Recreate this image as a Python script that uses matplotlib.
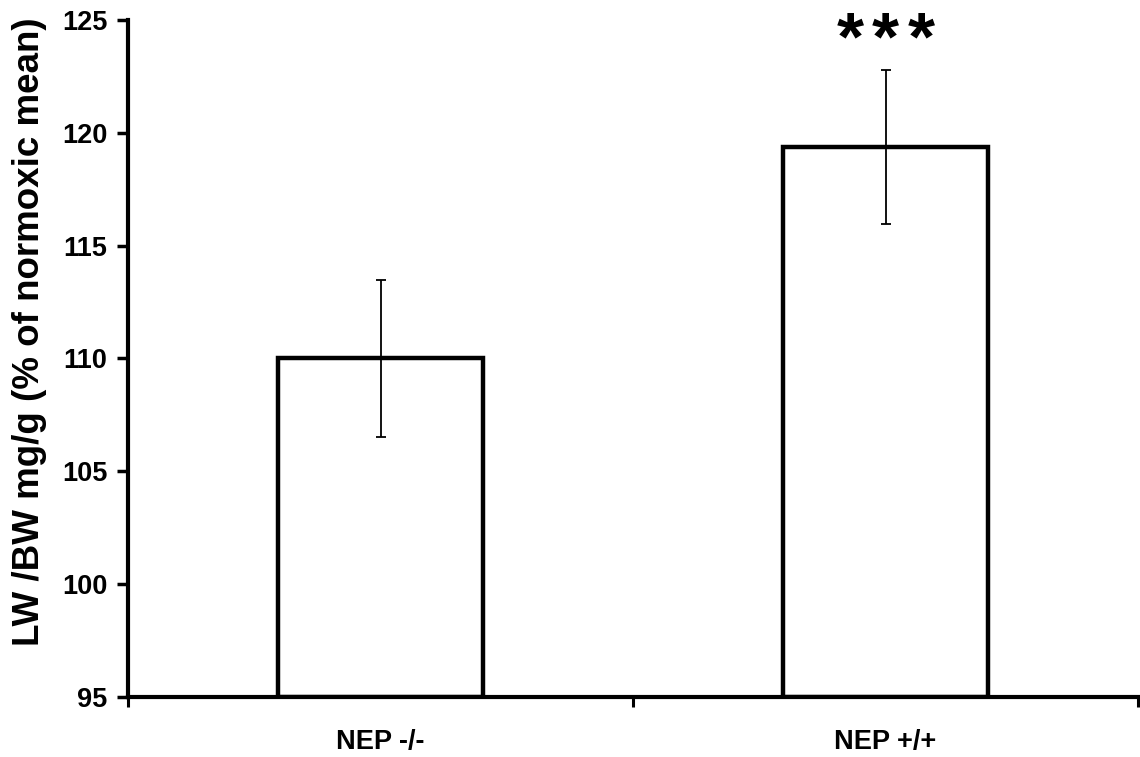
import matplotlib
matplotlib.use("Agg")
import matplotlib.pyplot as plt
import numpy as np

categories = ["NEP -/-", "NEP +/+"]
means = [110.0, 119.37]
errors = [3.5, 3.4]
y_ticks = [95, 100, 105, 110, 115, 120, 125]
annotation = "***"

plt.rcParams['font.family'] = ['Liberation Sans', 'DejaVu Sans']
plt.rcParams['font.weight'] = 'bold'

fig = plt.figure(figsize=(11.4, 7.57), dpi=100)
ax = fig.add_axes([128/1140, 1-697/757, (1138-128)/1140, (697-20)/757])

x = np.arange(len(categories))
ax.bar(x, [m - 95 for m in means], bottom=95, width=0.404, color='white',
       edgecolor='black', linewidth=3.2, zorder=2)
ax.errorbar(x, means, yerr=errors, fmt='none', ecolor='black', elinewidth=1.3,
            capsize=3.6, capthick=1.3, zorder=3)

ax.set_xlim(-0.5, 1.5)
ax.set_ylim(95, 125)
ax.set_yticks(y_ticks)
ax.set_yticklabels([str(t) for t in y_ticks], fontsize=19.5, fontweight='bold')
ax.set_xticks([-0.5, 0.5, 1.5])
ax.set_xticklabels([])
ax.set_xticks(x, minor=True)
ax.set_xticklabels(categories, minor=True, fontsize=19.5, fontweight='bold')
ax.tick_params(axis='x', which='minor', length=0, pad=23)
ax.tick_params(axis='x', which='major', length=7, width=2.2, direction='out')
ax.tick_params(axis='y', length=8, width=2.5, direction='out', pad=7)

for s in ['top', 'right']:
    ax.spines[s].set_visible(False)
for s in ['left', 'bottom']:
    ax.spines[s].set_linewidth(3)

ax.set_ylabel("LW /BW mg/g (% of normoxic mean)", fontsize=26.5, fontweight='bold')
ax.yaxis.label.set_verticalalignment('center')
ax.yaxis.set_label_coords(-0.0975, 0.539)

# significance stars, spread out like the original
ytop = means[1] + errors[1]
for i, ch in enumerate(annotation):
    off = (i - (len(annotation) - 1) / 2) * 25.5
    ax.annotate(ch, xy=(x[1], ytop), xytext=(off, 8), textcoords='offset points',
                ha='center', va='baseline', fontsize=50, fontweight='bold')

fig.savefig("out.png", dpi=100, facecolor='white')
